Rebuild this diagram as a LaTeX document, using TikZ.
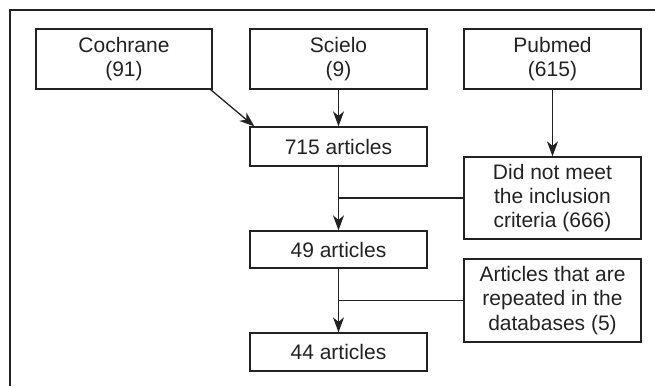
\documentclass[tikz,border=0pt]{standalone}
\usepackage{fontspec}
\setmainfont{Liberation Sans}
\usetikzlibrary{arrows.meta,calc}
\definecolor{ink}{HTML}{222222}
\begin{document}
\begin{tikzpicture}[x=1pt,y=-1pt,
  box/.style={draw=ink,line width=1.3pt,text=ink,align=center,inner sep=0pt,
    minimum width=177pt,font=\fontsize{21}{24.4}\selectfont},
  conn/.style={draw=ink,line width=1.3pt},
  arr/.style={conn,-{Stealth[length=15pt,width=11pt,inset=4.5pt]}}]
\useasboundingbox (0,0) rectangle (655,386);
\draw[conn] (655,10) -- (10,10) -- (10,386);
\node[box,minimum width=176pt,minimum height=60pt] (coch) at (124,59) {Cochrane\\(91)};
\node[box,minimum height=60pt] (sci) at (338.5,59) {Scielo\\(9)};
\node[box,minimum height=60pt] (pub) at (552.5,59) {Pubmed\\(615)};
\node[box,minimum height=39pt] (a715) at (338.5,146.5) {715 articles};
\node[box,minimum height=82pt] (dnm) at (552.5,198) {Did not meet\\the inclusion\\criteria (666)};
\node[box,minimum height=37pt] (a49) at (338.5,249.5) {49 articles};
\node[box,minimum height=83pt] (rep) at (552.5,300.5) {Articles that are\\repeated in the\\databases (5)};
\node[box,minimum height=38pt] (a44) at (338.5,352) {44 articles};
\draw[arr] ($(coch.south east)+(-2,0)$) -- ($(a715.north west)+(5,0)$);
\draw[arr] (sci.south) -- (a715.north);
\draw[arr] (pub.south) -- (dnm.north);
\draw[arr] (a715.south) -- (a49.north);
\draw[conn] (dnm.west) -- (dnm.west -| a715.south);
\draw[arr] (a49.south) -- (a44.north);
\draw[conn] (rep.west) -- (rep.west -| a49.south);
\end{tikzpicture}
\end{document}
